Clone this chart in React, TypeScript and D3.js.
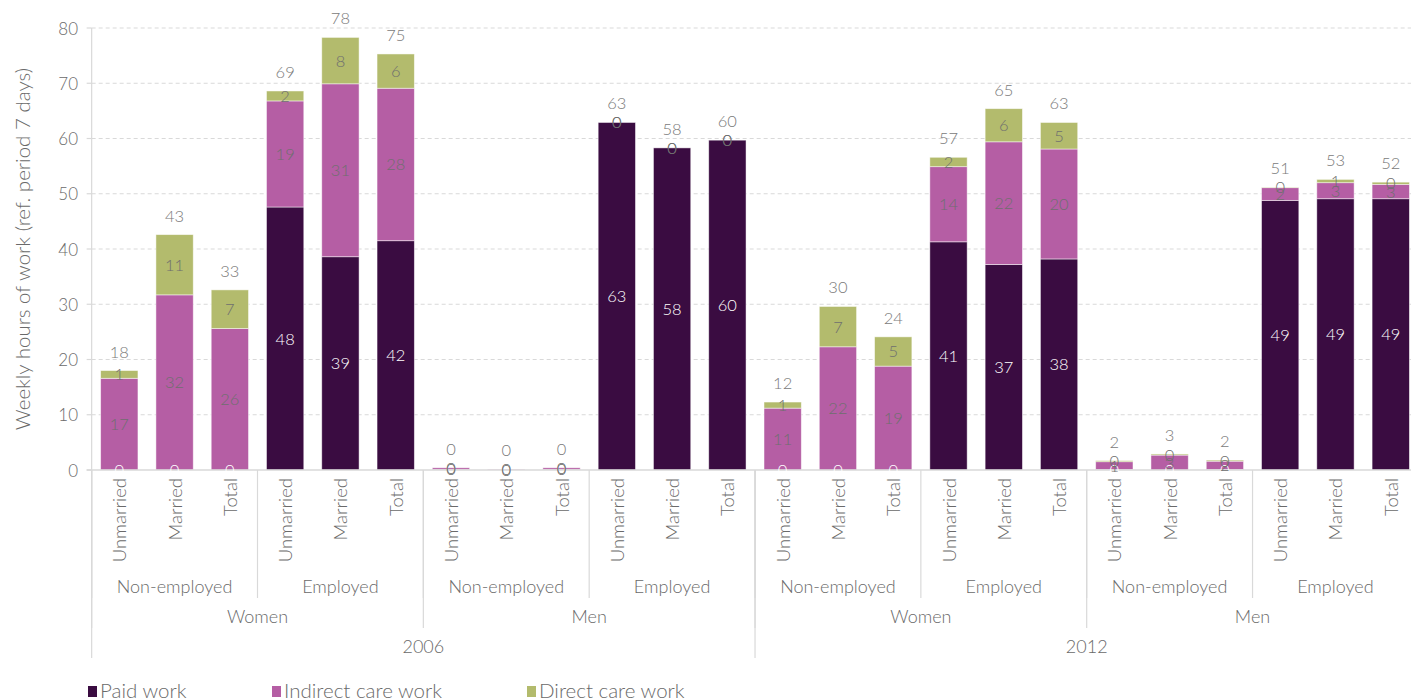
import React from "react";
import * as d3 from "d3";

const years = ["2006", "2012"];
const genders = ["Women", "Men"];
const employment = ["Non-employed", "Employed"];
const maritals = ["Unmarried", "Married", "Total"];

const seriesNames = ["Paid work", "Indirect care work", "Direct care work"];
const seriesColors = ["#3a0c41", "#b55ea4", "#b3bb6d"];
const labelColors = ["#ffffff", "#6f6f6f", "#6f6f6f"];

const paid = [0, 0, 0, 47.6, 38.6, 41.5, 0.1, 0, 0.1, 62.9, 58.3, 59.7, 0, 0, 0, 41.3, 37.2, 38.2, 0.1, 0, 0.1, 48.8, 49.1, 49.1];
const indirect = [16.6, 31.7, 25.6, 19.2, 31.3, 27.6, 0.3, 0.1, 0.3, 0, 0, 0, 11.2, 22.3, 18.8, 13.6, 22.2, 19.9, 1.4, 2.7, 1.5, 2.3, 2.9, 2.6];
const direct = [1.4, 10.9, 7.0, 1.8, 8.4, 6.2, 0, 0, 0, 0, 0, 0, 1.1, 7.3, 5.3, 1.7, 6.0, 4.8, 0.2, 0.2, 0.2, 0.1, 0.6, 0.4];

const yTicks = [0, 10, 20, 30, 40, 50, 60, 70, 80];

const W = 1411;
const H = 700;
const FONT = "Lato, 'Open Sans', sans-serif";
const GRAY = "#6a6a6a";
const LINE = "#d9d9d9";

export default function App() {
  const n = paid.length;
  const idx = d3.range(n);
  const x0 = 91.66;
  const step = 55.28;
  const x = d3
    .scaleBand<number>()
    .domain(idx)
    .range([x0, x0 + step * n])
    .paddingInner(0.325)
    .paddingOuter(0.1625);
  const y = d3.scaleLinear().domain([0, 80]).range([470, 28]);

  const rows = idx.map((i) => ({ i, paid: paid[i], indirect: indirect[i], direct: direct[i] }));
  const stack = d3.stack<any>().keys(["paid", "indirect", "direct"])(rows);
  const totals = idx.map((i) => paid[i] + indirect[i] + direct[i]);

  const bw = x.bandwidth();
  const cx = (i: number) => (x(i) as number) + bw / 2;
  const bandStart = (i: number) => (x(i) as number) - (step - bw) / 2;

  const axisY = y(0);
  const rightEdge = x0 + step * n;

  const lvl2 = d3.range(n / 3).map((g) => ({ start: g * 3, label: employment[g % 2] }));
  const lvl3 = d3.range(n / 6).map((g) => ({ start: g * 6, label: genders[g % 2] }));
  const lvl4 = d3.range(n / 12).map((g) => ({ start: g * 12, label: years[g] }));

  const legendX = [88, 272, 527];

  return (
    <svg
      width={W}
      height={H}
      style={{ position: "absolute", left: 0, top: 0, background: "#fff", overflow: "hidden" }}
      fontFamily={FONT}
    >
      {yTicks.map((t) =>
        t === 0 ? null : (
          <line
            key={"g" + t}
            x1={x0}
            x2={W}
            y1={y(t)}
            y2={y(t)}
            stroke={LINE}
            strokeDasharray="4,3"
            strokeWidth={1}
          />
        )
      )}
      <line x1={x0} x2={x0} y1={y(80)} y2={axisY} stroke={LINE} strokeWidth={1.2} />
      {yTicks.map((t) => (
        <g key={"t" + t}>
          <line x1={x0 - 5} x2={x0} y1={y(t)} y2={y(t)} stroke={LINE} strokeWidth={1.2} />
          <text x={78} y={y(t)} textAnchor="end" dominantBaseline="central" fontSize={17} fontWeight={300} fill={GRAY}>
            {t}
          </text>
        </g>
      ))}
      <text
        transform={`translate(22,${(y(0) + y(80)) / 2}) rotate(-90)`}
        textAnchor="middle"
        dominantBaseline="central"
        fontSize={20.5}
        fontWeight={300}
        fill={GRAY}
      >
        Weekly hours of work (ref. period 7 days)
      </text>

      {stack.map((layer, k) => (
        <g key={"s" + k} fill={seriesColors[k]}>
          {layer.map((d, i) => {
            const h = y(d[0]) - y(d[1]);
            if (h <= 0) return null;
            return (
              <rect
                key={i}
                x={x(i)}
                y={y(d[1])}
                width={bw}
                height={h}
                stroke="#ffffff"
                strokeOpacity={0.6}
                strokeWidth={0.8}
              />
            );
          })}
        </g>
      ))}

      <line x1={x0 - 5} x2={W} y1={axisY} y2={axisY} stroke={LINE} strokeWidth={1.5} />

      {stack.map((layer, k) => (
        <g key={"l" + k}>
          {layer.map((d, i) => (
            <text
              key={i}
              x={cx(i)}
              y={(y(d[0]) + y(d[1])) / 2}
              textAnchor="middle"
              dominantBaseline="central"
              fontSize={16.5}
              fontWeight={300}
              fill={labelColors[k]}
            >
              {Math.round(d[1] - d[0])}
            </text>
          ))}
        </g>
      ))}
      {totals.map((t, i) => (
        <text
          key={"tot" + i}
          x={cx(i)}
          y={y(t) - 19}
          textAnchor="middle"
          dominantBaseline="central"
          fontSize={16.5}
          fontWeight={300}
          fill="#7a7a7a"
        >
          {Math.round(t)}
        </text>
      ))}

      {idx.map((i) => (
        <text
          key={"c1" + i}
          transform={`translate(${cx(i)},${axisY + 8}) rotate(-90)`}
          textAnchor="end"
          dominantBaseline="central"
          fontSize={18.5}
          fontWeight={300}
          fill={GRAY}
        >
          {maritals[i % 3]}
        </text>
      ))}

      {lvl2.map((g, j) => (
        <g key={"l2" + j}>
          <line x1={bandStart(g.start)} x2={bandStart(g.start)} y1={axisY} y2={598} stroke={LINE} strokeWidth={1.2} />
          <text
            x={bandStart(g.start) + step * 1.5}
            y={586}
            textAnchor="middle"
            dominantBaseline="central"
            fontSize={18}
            fontWeight={300}
            fill={GRAY}
          >
            {g.label}
          </text>
        </g>
      ))}
      {lvl3.map((g, j) => (
        <g key={"l3" + j}>
          <line x1={bandStart(g.start)} x2={bandStart(g.start)} y1={axisY} y2={628} stroke={LINE} strokeWidth={1.2} />
          <text
            x={bandStart(g.start) + step * 3}
            y={616}
            textAnchor="middle"
            dominantBaseline="central"
            fontSize={18}
            fontWeight={300}
            fill={GRAY}
          >
            {g.label}
          </text>
        </g>
      ))}
      {lvl4.map((g, j) => (
        <g key={"l4" + j}>
          <line x1={bandStart(g.start)} x2={bandStart(g.start)} y1={axisY} y2={658} stroke={LINE} strokeWidth={1.2} />
          <text
            x={bandStart(g.start) + step * 6}
            y={646}
            textAnchor="middle"
            dominantBaseline="central"
            fontSize={18}
            fontWeight={300}
            fill={GRAY}
          >
            {g.label}
          </text>
        </g>
      ))}
      <line x1={rightEdge} x2={rightEdge} y1={axisY} y2={658} stroke={LINE} strokeWidth={1.2} />

      {seriesNames.map((s, k) => (
        <g key={"lg" + k}>
          <rect x={legendX[k]} y={686} width={9} height={11} fill={seriesColors[k]} />
          <text x={legendX[k] + 12} y={698} fontSize={20.5} fontWeight={300} fill={GRAY}>
            {s}
          </text>
        </g>
      ))}
    </svg>
  );
}
